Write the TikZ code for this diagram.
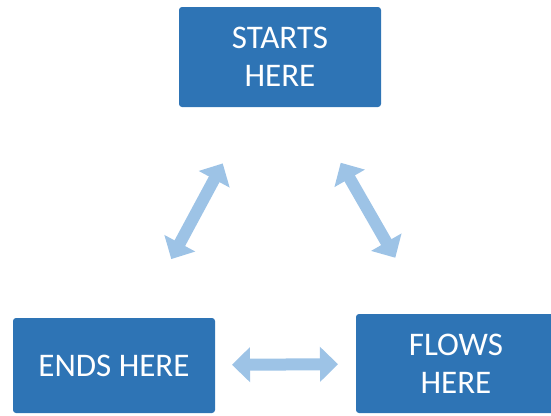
\documentclass[tikz,border=0pt]{standalone}
\usepackage{fontspec}
\setmainfont{Carlito}
\usetikzlibrary{arrows.meta}
\usetikzlibrary{calc}
\definecolor{boxblue}{HTML}{2E74B5}
\definecolor{arrowblue}{HTML}{9DC3E6}
\tikzset{>={Triangle[width=34pt,length=18pt]}}
\tikzset{stagebox/.style={fill=boxblue, rounded corners=3pt, text=white, align=center,
    font=\fontsize{33}{38}\selectfont, inner sep=0pt}}
\tikzset{cyclearrow/.style={<->, draw=arrowblue, fill=arrowblue, line width=12pt}}

\begin{document}
\begin{tikzpicture}[x=1pt,y=-1pt]
  % Define variables
  \pgfmathsetmacro{\gapstart}{0.345}  % where the arrows start
  \pgfmathsetmacro{\gapend}{0.655}    % where the arrows end
  \useasboundingbox (0,0) rectangle (551,415);
  \clip (0,0) rectangle (551,415);

  % Draw the three boxes
  \node[stagebox, minimum width=202pt, minimum height=100pt] (starts) at (280,57) {STARTS\\HERE};
  \node[stagebox, minimum width=202pt, minimum height=95pt] (ends) at (114,365.5) {ENDS HERE};
  \node[stagebox, minimum width=200pt, minimum height=99pt] (flows) at (456,363.5) {FLOWS\\HERE};

  % Draw the arrows between them
  \draw[cyclearrow] ($(starts)!\gapstart!(ends)$) -- ($(starts)!\gapend!(ends)$);
  \draw[cyclearrow] ($(starts)!\gapstart!(flows)$) -- ($(starts)!\gapend!(flows)$);
  \draw[cyclearrow] ($(ends)!\gapstart!(flows)$) -- ($(ends)!\gapend!(flows)$);
\end{tikzpicture}
\end{document}
